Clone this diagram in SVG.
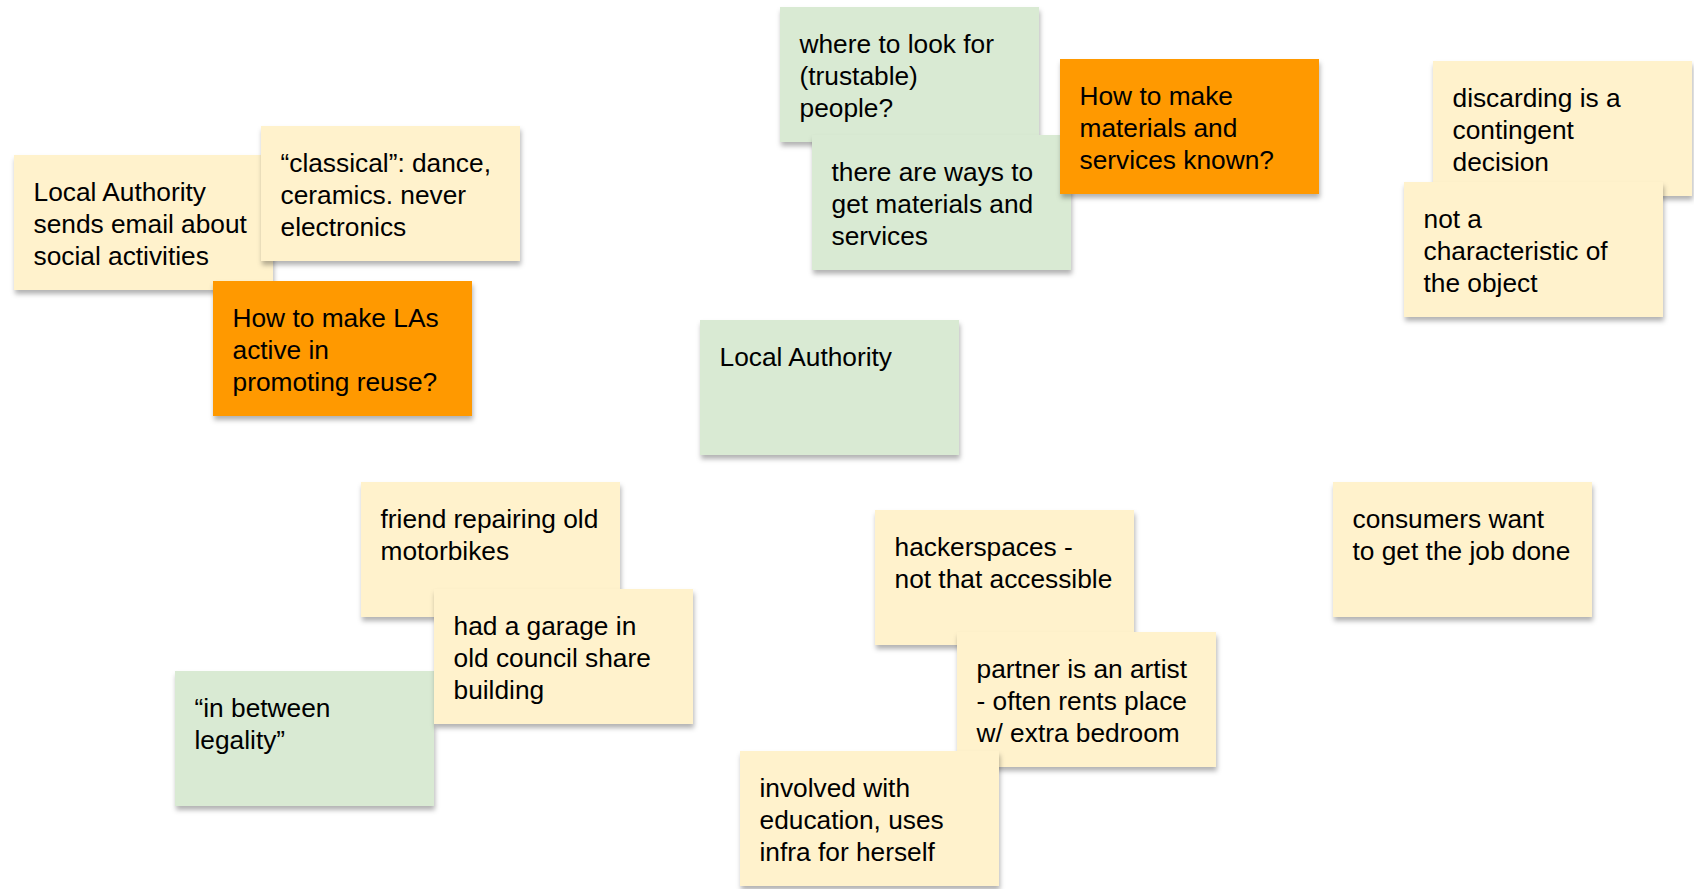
<svg xmlns="http://www.w3.org/2000/svg" width="1694" height="889" viewBox="0 0 1694 889">
<defs>
<filter id="sh" x="-10%" y="-10%" width="125%" height="130%">
<feDropShadow dx="1" dy="4" stdDeviation="2.5" flood-color="#000" flood-opacity="0.3"/>
</filter>
<style>
.n{filter:url(#sh);}
.y{fill:#fff2cc;}
.g{fill:#d9ead3;}
.o{fill:#ff9900;}
text{font-family:"Liberation Sans",Arial,sans-serif;font-size:26.3px;fill:#000;}
</style>
</defs>
<rect width="1694" height="889" fill="#ffffff"/>
<g id="connectors"/>
<g id="la-email" transform="translate(14,155)"><rect class="n y" width="259" height="135"/><text x="19.5" y="46"><tspan x="19.5">Local Authority</tspan><tspan x="19.5" dy="32">sends email about</tspan><tspan x="19.5" dy="32">social activities</tspan></text></g>
<g id="classical" transform="translate(261,126)"><rect class="n y" width="259" height="135"/><text x="19.5" y="46"><tspan x="19.5">“classical”: dance,</tspan><tspan x="19.5" dy="32">ceramics. never</tspan><tspan x="19.5" dy="32">electronics</tspan></text></g>
<g id="q-las" transform="translate(213,281)"><rect class="n o" width="259" height="135"/><text x="19.5" y="46"><tspan x="19.5">How to make LAs</tspan><tspan x="19.5" dy="32">active in</tspan><tspan x="19.5" dy="32">promoting reuse?</tspan></text></g>
<g id="where-look" transform="translate(780,7)"><rect class="n g" width="259" height="135"/><text x="19.5" y="46"><tspan x="19.5">where to look for</tspan><tspan x="19.5" dy="32">(trustable)</tspan><tspan x="19.5" dy="32">people?</tspan></text></g>
<g id="ways" transform="translate(812,135)"><rect class="n g" width="259" height="135"/><text x="19.5" y="46"><tspan x="19.5">there are ways to</tspan><tspan x="19.5" dy="32">get materials and</tspan><tspan x="19.5" dy="32">services</tspan></text></g>
<g id="q-materials" transform="translate(1060,59)"><rect class="n o" width="259" height="135"/><text x="19.5" y="46"><tspan x="19.5">How to make</tspan><tspan x="19.5" dy="32">materials and</tspan><tspan x="19.5" dy="32">services known?</tspan></text></g>
<g id="discarding" transform="translate(1433,61)"><rect class="n y" width="259" height="135"/><text x="19.5" y="46"><tspan x="19.5">discarding is a</tspan><tspan x="19.5" dy="32">contingent</tspan><tspan x="19.5" dy="32">decision</tspan></text></g>
<g id="not-char" transform="translate(1404,182)"><rect class="n y" width="259" height="135"/><text x="19.5" y="46"><tspan x="19.5">not a</tspan><tspan x="19.5" dy="32">characteristic of</tspan><tspan x="19.5" dy="32">the object</tspan></text></g>
<g id="local-authority" transform="translate(700,320)"><rect class="n g" width="259" height="135"/><text x="19.5" y="46"><tspan x="19.5">Local Authority</tspan></text></g>
<g id="friend" transform="translate(361,482)"><rect class="n y" width="259" height="135"/><text x="19.5" y="46"><tspan x="19.5">friend repairing old</tspan><tspan x="19.5" dy="32">motorbikes</tspan></text></g>
<g id="in-between" transform="translate(175,671)"><rect class="n g" width="259" height="135"/><text x="19.5" y="46"><tspan x="19.5">“in between</tspan><tspan x="19.5" dy="32">legality”</tspan></text></g>
<g id="garage" transform="translate(434,589)"><rect class="n y" width="259" height="135"/><text x="19.5" y="46"><tspan x="19.5">had a garage in</tspan><tspan x="19.5" dy="32">old council share</tspan><tspan x="19.5" dy="32">building</tspan></text></g>
<g id="hackerspaces" transform="translate(875,510)"><rect class="n y" width="259" height="135"/><text x="19.5" y="46"><tspan x="19.5">hackerspaces -</tspan><tspan x="19.5" dy="32">not that accessible</tspan></text></g>
<g id="partner" transform="translate(957,632)"><rect class="n y" width="259" height="135"/><text x="19.5" y="46"><tspan x="19.5">partner is an artist</tspan><tspan x="19.5" dy="32">- often rents place</tspan><tspan x="19.5" dy="32">w/ extra bedroom</tspan></text></g>
<g id="involved" transform="translate(740,751)"><rect class="n y" width="259" height="135"/><text x="19.5" y="46"><tspan x="19.5">involved with</tspan><tspan x="19.5" dy="32">education, uses</tspan><tspan x="19.5" dy="32">infra for herself</tspan></text></g>
<g id="consumers" transform="translate(1333,482)"><rect class="n y" width="259" height="135"/><text x="19.5" y="46"><tspan x="19.5">consumers want</tspan><tspan x="19.5" dy="32">to get the job done</tspan></text></g>
</svg>
